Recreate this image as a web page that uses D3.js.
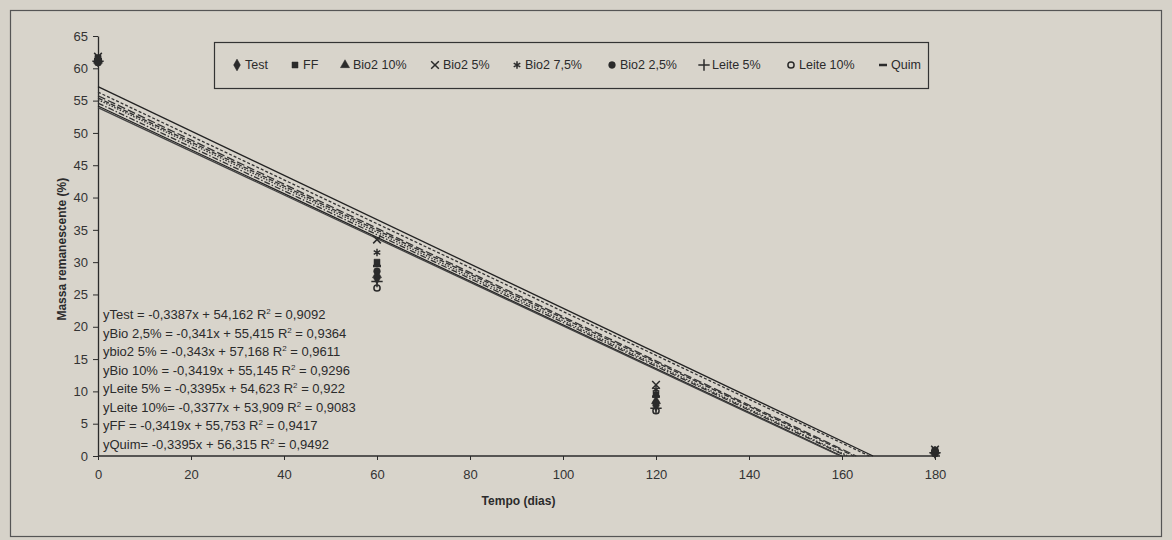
<!DOCTYPE html>
<html>
<head>
<meta charset="utf-8">
<script src="https://cdn.jsdelivr.net/npm/d3@7"></script>
<style>
  body { margin: 0; background: #d6d2c9; }
  svg { display: block; font-family: Arial, "Liberation Sans", sans-serif; }
</style>
</head>
<body>
<div id="chart"></div>
<script>
const days = [0, 60, 120, 180];
const seriesNames = ["Test", "FF", "Bio2 10%", "Bio2 5%", "Bio2 7,5%", "Bio2 2,5%", "Leite 5%", "Leite 10%", "Quim"];
const testValues     = [61.3, 27.5, 7.8, 0.6];
const ffValues       = [61.6, 30.0, 9.5, 0.9];
const bio10Values    = [61.2, 28.0, 8.5, 0.7];
const bio5Values     = [61.8, 33.5, 11.0, 1.0];
const bio75Values    = [61.5, 31.5, 10.3, 0.8];
const bio25Values    = [61.0, 28.6, 8.2, 0.6];
const leite5Values   = [61.1, 27.0, 7.4, 0.5];
const leite10Values  = [60.9, 26.0, 7.0, 0.4];
const quimValues     = [61.4, 29.4, 9.2, 0.8];

// trendline coefficients (slope, intercept) and labels from the chart
const trendLabels = ["yTest = -0,3387x + 54,162", "yBio 2,5% = -0,341x + 55,415", "ybio2 5% = -0,343x + 57,168",
  "yBio 10% = -0,3419x + 55,145", "yLeite 5% = -0,3395x + 54,623", "yLeite 10%= -0,3377x + 53,909",
  "yFF = -0,3419x + 55,753", "yQuim= -0,3395x + 56,315"];
const trendR2 = ["0,9092", "0,9364", "0,9611", "0,9296", "0,922", "0,9083", "0,9417", "0,9492"];
const trendSlopes = [-0.3387, -0.341, -0.343, -0.3419, -0.3395, -0.3377, -0.3419, -0.3395];
const trendIntercepts = [54.162, 55.415, 57.168, 55.145, 54.623, 53.909, 55.753, 56.315];

const xTicks = [0, 20, 40, 60, 80, 100, 120, 140, 160, 180];
const yTicks = [0, 5, 10, 15, 20, 25, 30, 35, 40, 45, 50, 55, 60, 65];

const width = 1172;
const height = 540;
const margin = { top: 36, right: 237, bottom: 84, left: 98 };
const innerWidth = width - margin.left - margin.right;
const innerHeight = height - margin.top - margin.bottom;
const ink = "#2b2b2b";

const svg = d3.select("#chart").append("svg")
    .attr("width", width)
    .attr("height", height);

svg.append("rect")
    .attr("x", 10.5).attr("y", 10.5)
    .attr("width", width - 21).attr("height", height - 14)
    .attr("fill", "#d8d4cb")
    .attr("stroke", "#555")
    .attr("stroke-width", 1.2);

const inner = svg.append("g")
    .attr("transform", `translate(${margin.left}, ${margin.top})`);

const xScale = d3.scaleLinear().domain([0, 180]).range([0, innerWidth]);
const yScale = d3.scaleLinear().domain([0, 65]).range([innerHeight, 0]);

// axes
const xAxis = inner.append("g")
    .attr("transform", `translate(0, ${innerHeight})`)
    .call(d3.axisBottom(xScale).tickValues(xTicks).tickSize(4).tickSizeOuter(0).tickPadding(10));
const yAxis = inner.append("g")
    .call(d3.axisLeft(yScale).tickValues(yTicks).tickSize(5).tickSizeOuter(0).tickPadding(5));

[xAxis, yAxis].forEach(a => {
    a.select(".domain").attr("stroke", ink).attr("stroke-width", 1.3);
    a.selectAll(".tick line").attr("stroke", ink);
    a.selectAll(".tick text")
        .attr("fill", "#333")
        .style("font-size", "13px")
        .style("font-family", "Arial, 'Liberation Sans', sans-serif");
});
xAxis.select(".domain").attr("d", `M0,0H${innerWidth + 5}`);

svg.append("text")
    .text("Tempo (dias)")
    .attr("x", margin.left + xScale(90) + 2)
    .attr("y", 505)
    .attr("text-anchor", "middle")
    .attr("fill", ink)
    .style("font-size", "12px")
    .style("font-weight", "bold");

svg.append("text")
    .text("Massa remanescente (%)")
    .attr("transform", `translate(66, ${margin.top + yScale(32)}) rotate(-90)`)
    .attr("text-anchor", "middle")
    .attr("fill", ink)
    .style("font-size", "12px")
    .style("font-weight", "bold");

// trendlines
const dashes = ["none", "5,2", "none", "1.5,1.5", "6,2,1.5,2", "none", "8,3", "3,2"];
const strokes = ["#222", "#333", "#222", "#333", "#333", "#444", "#333", "#333"];
const trendData = trendSlopes.map((m, i) => ({ m, b: trendIntercepts[i], dash: dashes[i], color: strokes[i] }));

inner.selectAll(".trend")
    .data(trendData)
    .join("line")
        .attr("class", "trend")
        .attr("x1", xScale(0))
        .attr("y1", d => yScale(d.b))
        .attr("x2", d => xScale(-d.b / d.m))
        .attr("y2", yScale(0))
        .attr("stroke", d => d.color)
        .attr("stroke-width", 1.3)
        .attr("stroke-dasharray", d => d.dash);

// markers
const symTimes = d3.symbolTimes || d3.symbolCross;
const symAst = d3.symbolAsterisk || d3.symbolStar;
const symPlus = d3.symbolPlus || d3.symbolCross;
const markers = [
    { type: d3.symbolDiamond, size: 40, fill: true },
    { type: d3.symbolSquare, size: 36, fill: true },
    { type: d3.symbolTriangle, size: 36, fill: true },
    { type: symTimes, size: 40, fill: false },
    { type: symAst, size: 40, fill: false },
    { type: d3.symbolCircle, size: 36, fill: true },
    { type: symPlus, size: 44, fill: false },
    { type: d3.symbolCircle, size: 30, fill: false },
    { type: "minus", size: 0, fill: false }
];
const markerPath = mk => mk.type === "minus" ? "M-4,0H4" : d3.symbol(mk.type, mk.size)();

const allValues = [testValues, ffValues, bio10Values, bio5Values, bio75Values, bio25Values, leite5Values, leite10Values, quimValues];
const series = seriesNames.map((name, i) => ({ name, mk: markers[i], values: allValues[i] }));

series.forEach(s => {
    inner.append("g")
        .selectAll("path")
        .data(s.values.map((v, j) => ({ x: days[j], y: v })))
        .join("path")
            .attr("transform", d => `translate(${xScale(d.x)}, ${yScale(d.y)})`)
            .attr("d", markerPath(s.mk))
            .attr("fill", s.mk.fill ? ink : "none")
            .attr("stroke", ink)
            .attr("stroke-width", s.mk.fill ? 0.5 : (s.mk.type === "minus" ? 2.5 : 1.5));
});

// equations
const eq = inner.append("g");
trendLabels.forEach((t, i) => {
    const txt = eq.append("text")
        .attr("x", 5)
        .attr("y", 283 + i * 18.5)
        .attr("fill", ink)
        .style("font-size", "13px");
    txt.append("tspan").text(`${t} R`);
    txt.append("tspan").text("2").attr("dy", -5).style("font-size", "8px");
    txt.append("tspan").text(` = ${trendR2[i]}`).attr("dy", 5);
});

// legend
const legend = svg.append("g");
legend.append("rect")
    .attr("x", 214.5).attr("y", 42.5)
    .attr("width", 714).attr("height", 46)
    .attr("fill", "#d8d4cb")
    .attr("stroke", "#333")
    .attr("stroke-width", 1.2);

const legendX = [237, 295, 345, 435, 517, 612, 704, 791, 883];
series.forEach((s, i) => {
    const g = legend.append("g").attr("transform", `translate(${legendX[i]}, 65)`);
    g.append("path")
        .attr("d", markerPath(s.mk))
        .attr("fill", s.mk.fill ? ink : "none")
        .attr("stroke", ink)
        .attr("stroke-width", s.mk.fill ? 0.5 : (s.mk.type === "minus" ? 2.5 : 1.5));
    g.append("text")
        .text(s.name)
        .attr("x", 8)
        .attr("dy", "0.35em")
        .attr("fill", ink)
        .style("font-size", "12.5px");
});
</script>
</body>
</html>
